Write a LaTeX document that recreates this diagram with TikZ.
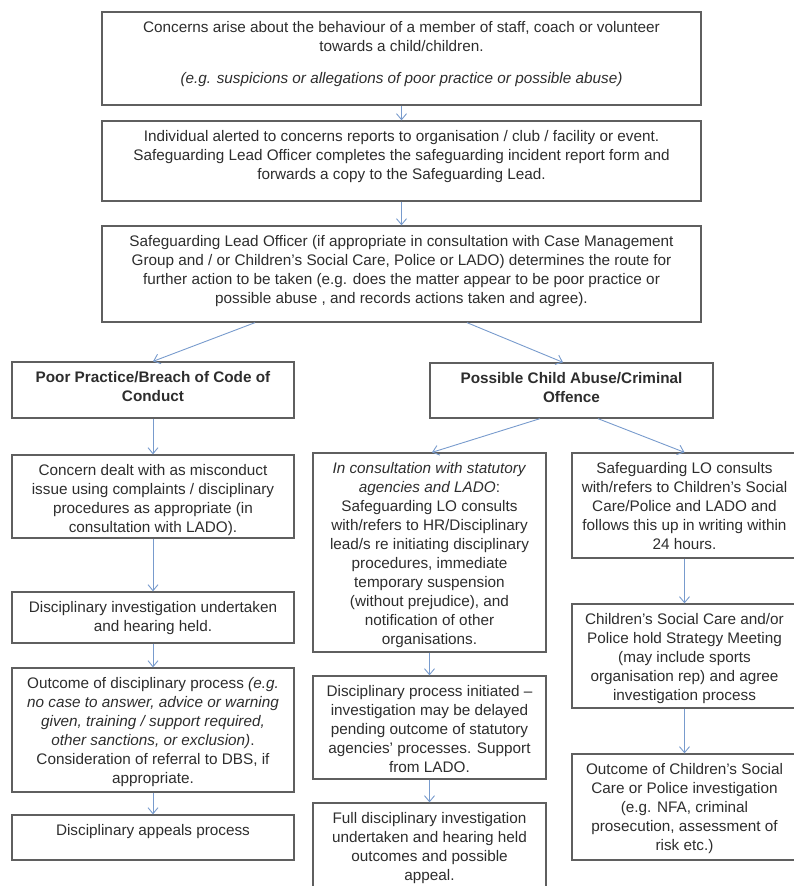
\documentclass[tikz,border=0pt]{standalone}
\usepackage{fontspec}
\setmainfont{Liberation Sans}
\usepackage{xcolor}
\usetikzlibrary{arrows.meta, positioning}

\definecolor{boxgray}{RGB}{95,95,95}
\definecolor{txtgray}{RGB}{45,45,45}
\definecolor{linkblue}{RGB}{120,155,205}

% text of a box, set at its top
\newcommand{\boxtext}[3]{\parbox[c][#2][t]{#1}{\vspace*{9pt}\centering #3\par}}

\begin{document}
\begin{tikzpicture}[x=1pt, y=-1pt,
    box/.style={draw=boxgray, line width=1.3pt, inner sep=0pt, text=txtgray,
                font=\fontsize{15.3}{19}\selectfont},
    link/.style={draw=linkblue, line width=0.9pt, -{Straight Barb[length=6pt, width=10pt]}}]
    \useasboundingbox (0,0) rectangle (794,886);

    % Report and route
    \node[box] (b1) at (401.5,58.5) {\boxtext{599pt}{93pt}{Concerns arise about the behaviour of a member of staff, coach or volunteer\\ towards a child/children.\\[13pt] \textit{(e.g. suspicions or allegations of poor practice or possible abuse)}}};
    \node[box] (b2) at (401.5,161) {\boxtext{599pt}{80pt}{Individual alerted to concerns reports to organisation / club / facility or event.\\ Safeguarding Lead Officer completes the safeguarding incident report form and\\ forwards a copy to the Safeguarding Lead.}};
    \node[box] (b3) at (401.5,274) {\boxtext{599pt}{96pt}{Safeguarding Lead Officer (if appropriate in consultation with Case Management\\ Group and / or Children’s Social Care, Police or LADO) determines the route for\\ further action to be taken (e.g. does the matter appear to be poor practice or\\ possible abuse , and records actions taken and agree).}};

    % Two routes
    \node[box] (b4) at (153,390) {\boxtext{282pt}{56pt}{\textbf{Poor Practice/Breach of Code of}\\ \textbf{Conduct}}};
    \node[box] (b5) at (571.5,390.5) {\boxtext{283pt}{55pt}{\textbf{Possible Child Abuse/Criminal}\\ \textbf{Offence}}};

    % Poor practice column
    \node[box] (b6) at (153,496.5) {\boxtext{282pt}{83pt}{Concern dealt with as misconduct\\ issue using complaints / disciplinary\\ procedures as appropriate (in\\ consultation with LADO).}};
    \node[box] (b7) at (153,617.5) {\boxtext{282pt}{51pt}{Disciplinary investigation undertaken\\ and hearing held.}};
    \node[box] (b8) at (153,730) {\boxtext{282pt}{124pt}{Outcome of disciplinary process \textit{(e.g.}\\ \textit{no case to answer, advice or warning}\\ \textit{given, training / support required,}\\ \textit{other sanctions, or exclusion)}.\\ Consideration of referral to DBS, if\\ appropriate.}};
    \node[box] (b9) at (153,837.5) {\boxtext{282pt}{45pt}{Disciplinary appeals process}};

    % Disciplinary column
    \node[box] (m1) at (429.5,552.5) {\boxtext{233pt}{199pt}{\textit{In consultation with statutory}\\ \textit{agencies and LADO}:\\ Safeguarding LO consults\\ with/refers to HR/Disciplinary\\ lead/s re initiating disciplinary\\ procedures, immediate\\ temporary suspension\\ (without prejudice), and\\ notification of other\\ organisations.}};
    \node[box] (m2) at (429.5,727.5) {\boxtext{233pt}{103pt}{Disciplinary process initiated --\\ investigation may be delayed\\ pending outcome of statutory\\ agencies’ processes. Support\\ from LADO.}};
    \node[box] (m3) at (429.5,854) {\boxtext{233pt}{102pt}{Full disciplinary investigation\\ undertaken and hearing held\\ outcomes and possible\\ appeal.}};

    % Statutory column
    \node[box] (r1) at (684.5,505.5) {\boxtext{225pt}{105pt}{Safeguarding LO consults\\ with/refers to Children’s Social\\ Care/Police and LADO and\\ follows this up in writing within\\ 24 hours.}};
    \node[box] (r2) at (684.5,656) {\boxtext{225pt}{104pt}{Children’s Social Care and/or\\ Police hold Strategy Meeting\\ (may include sports\\ organisation rep) and agree\\ investigation process}};
    \node[box] (r3) at (684.5,807) {\boxtext{225pt}{106pt}{Outcome of Children’s Social\\ Care or Police investigation\\ (e.g. NFA, criminal\\ prosecution, assessment of\\ risk etc.)}};

    % Links
    \foreach \a/\b in {b1/b2, b2/b3, b4/b6, b6/b7, b7/b8, b8/b9, m1/m2, m2/m3, r1/r2, r2/r3}
        \draw[link] (\a) -- (\b);
    \draw[link] ([xshift=-146.5pt]b3.south) -- (b4.north);
    \draw[link] ([xshift=65.5pt]b3.south) -- ([xshift=-8.5pt]b5.north);
    \draw[link] ([xshift=-31.5pt]b5.south) -- ([xshift=2.5pt]m1.north);
    \draw[link] ([xshift=26.5pt]b5.south) -- (r1.north);
\end{tikzpicture}
\end{document}
